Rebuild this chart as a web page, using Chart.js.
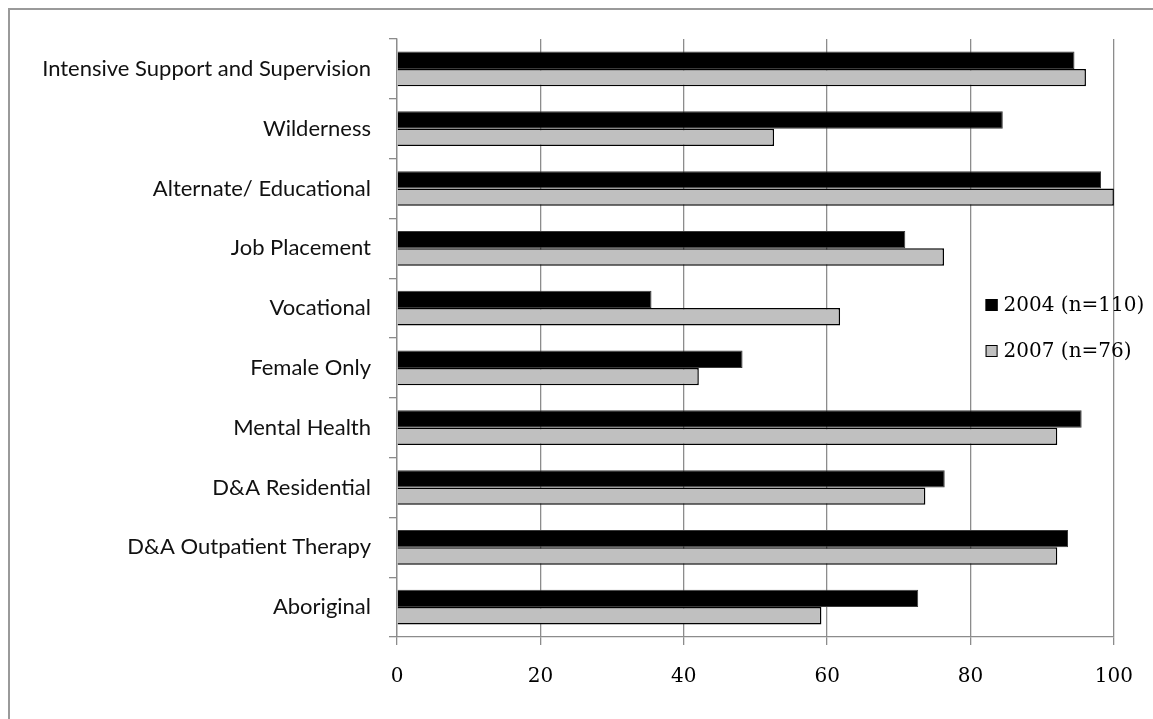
<!DOCTYPE html>
<html>
<head>
<meta charset="utf-8">
<script src="https://cdn.jsdelivr.net/npm/chart.js@4.4.1/dist/chart.umd.min.js"></script>
<style>
  html, body { margin: 0; padding: 0; background: #fff; }
  #wrap { position: relative; width: 1153px; height: 719px; overflow: hidden; }
  #frame { position: absolute; left: 8px; top: 8px; width: 1200px; height: 760px;
           border: 2px solid #9a9a9a; box-sizing: border-box; pointer-events: none; }
  canvas { position: absolute; left: 0; top: 0; }
</style>
</head>
<body>
<div id="wrap">
  <canvas id="c" width="1153" height="719"></canvas>
  <div id="frame"></div>
</div>
<script>
// Programme types offered (percent of services)
const categories = [
  'Intensive Support and Supervision',
  'Wilderness',
  'Alternate/ Educational',
  'Job Placement',
  'Vocational',
  'Female Only',
  'Mental Health',
  'D&A Residential',
  'D&A Outpatient Therapy',
  'Aboriginal'
];
const series2004 = [94.5, 84.5, 98.2, 70.9, 35.5, 48.2, 95.5, 76.4, 93.6, 72.7];
const series2007 = [96.1, 52.6, 100, 76.3, 61.8, 42.1, 92.1, 73.7, 92.1, 59.2];
const seriesLabels = ['2004 (n=110)', '2007 (n=76)'];
const xTicks = [0, 20, 40, 60, 80, 100];

const GRID = '#8c8c8c';
const SERIF = '"DejaVu Serif", serif';
const SANS = 'Lato, "Open Sans", sans-serif';

// Legend drawn inside the plot, to the right of the bars
const sideLegend = {
  id: 'sideLegend',
  afterDraw(chart) {
    const ctx = chart.ctx;
    const x = chart.scales.x;
    const left = x.getPixelForValue(82.1);
    const rows = [305, 351];
    ctx.save();
    ctx.font = '20px ' + SERIF;
    ctx.textBaseline = 'middle';
    ctx.textAlign = 'left';
    chart.data.datasets.forEach((ds, i) => {
      const cy = rows[i];
      ctx.fillStyle = ds.backgroundColor;
      ctx.fillRect(left, cy - 6, 12, 12);
      ctx.lineWidth = 1;
      ctx.strokeStyle = '#000';
      ctx.strokeRect(left + 0.5, cy - 5.5, 11, 11);
      ctx.fillStyle = '#000';
      ctx.fillText(ds.label, left + 18, cy + 1);
    });
    ctx.restore();
  }
};

new Chart(document.getElementById('c'), {
  type: 'bar',
  data: {
    labels: categories,
    datasets: [
      { label: seriesLabels[0], data: series2004, backgroundColor: '#000000',
        borderColor: '#3a3a3a', borderWidth: 1 },
      { label: seriesLabels[1], data: series2007, backgroundColor: '#c0c0c0',
        borderColor: '#000000', borderWidth: 1.5 }
    ]
  },
  options: {
    indexAxis: 'y',
    responsive: false,
    animation: false,
    devicePixelRatio: 1,
    layout: { padding: { left: 0, right: 38, top: 39, bottom: 0 } },
    datasets: { bar: { categoryPercentage: 0.58, barPercentage: 1.0 } },
    plugins: { legend: { display: false }, tooltip: { enabled: false } },
    scales: {
      x: {
        min: 0, max: 100,
        afterBuildTicks(scale) { scale.ticks = xTicks.map(v => ({ value: v })); },
        afterFit(scale) { scale.height = 82; },
        grid: { color: GRID, lineWidth: 1.3, tickLength: 8, drawTicks: true },
        border: { color: GRID, width: 1.3 },
        ticks: { color: '#000', font: { family: SERIF, size: 20 }, padding: 20 }
      },
      y: {
        afterFit(scale) { scale.width = 397; },
        grid: { offset: true, drawOnChartArea: false, color: GRID, lineWidth: 1.3, tickLength: 8 },
        border: { color: GRID, width: 1.3 },
        ticks: { color: '#111', font: { family: SANS, size: 22 }, padding: 18, autoSkip: false }
      }
    }
  },
  plugins: [sideLegend]
});
</script>
</body>
</html>
